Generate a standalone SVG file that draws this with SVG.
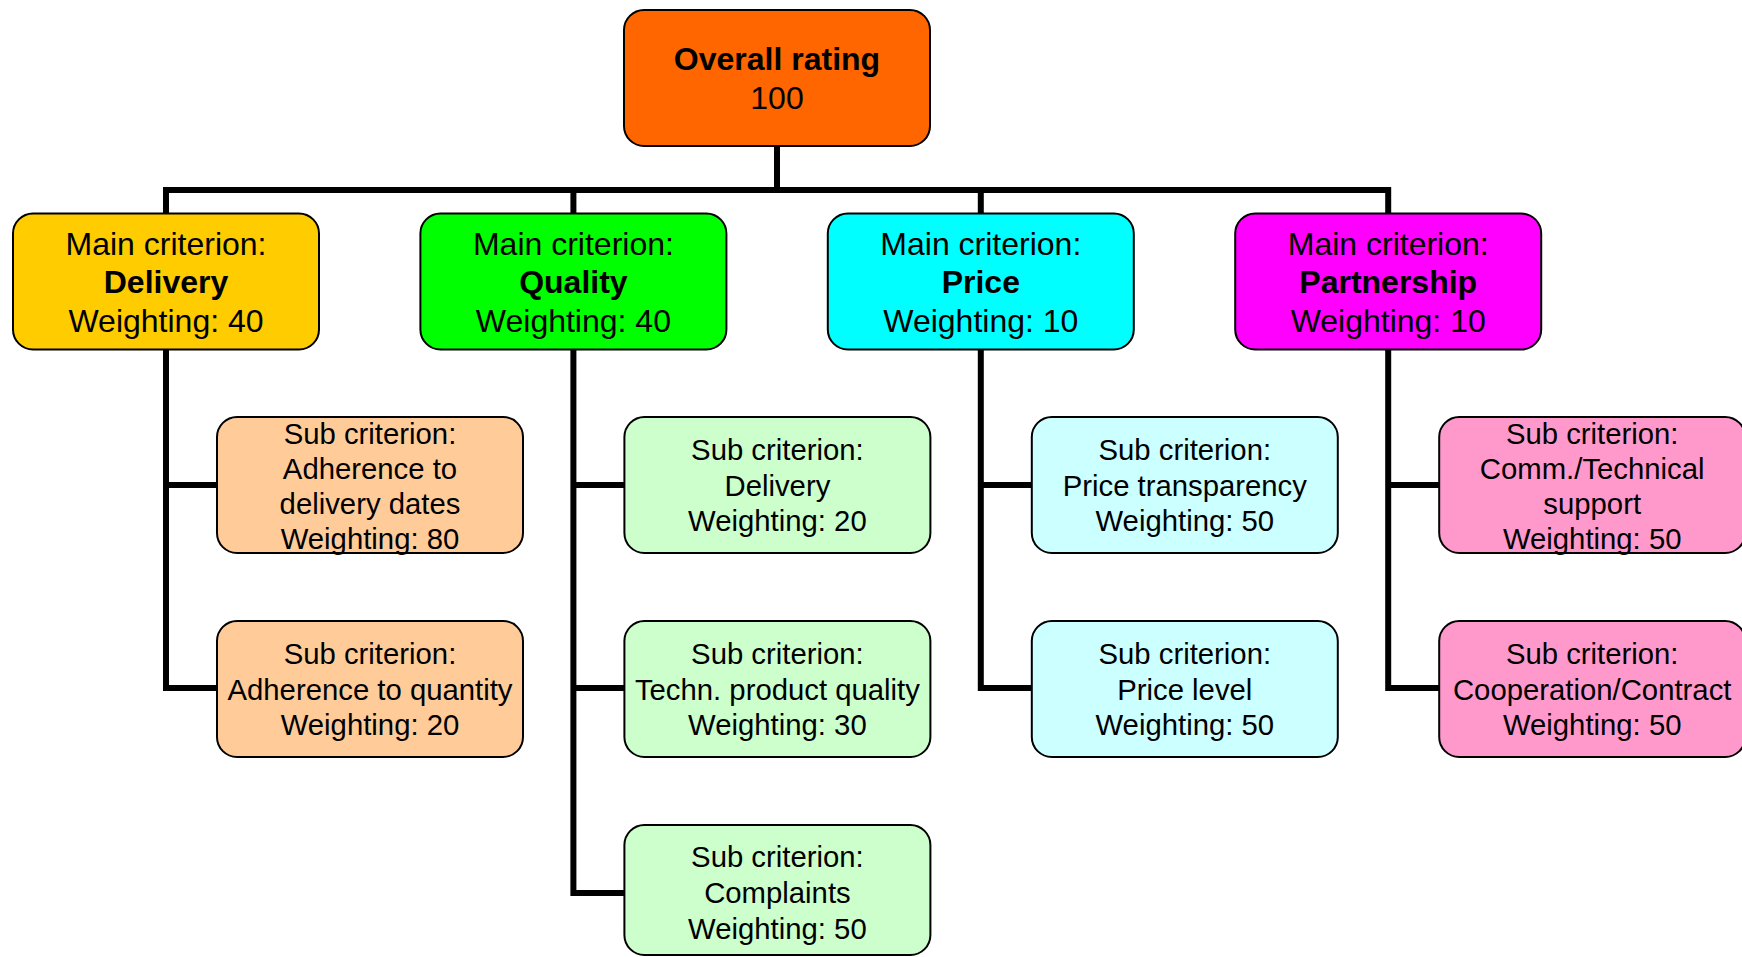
<svg xmlns="http://www.w3.org/2000/svg" width="1742" height="957" viewBox="0 0 1742 957">
<style>
  .box { stroke: #000; stroke-width: 2; }
  .conn { fill: none; stroke: #000; stroke-width: 6; stroke-linejoin: miter; stroke-linecap: butt; }
  text { font-family: "Liberation Sans", Arial, Helvetica, sans-serif; fill: #000; text-anchor: middle; }
  .m { font-size: 32px; }
  .s { font-size: 29.3px; }
  .b { font-weight: bold; }
  .top { fill: #FF6600; }
  .md { fill: #FFCC00; }
  .mq { fill: #00FF00; }
  .mp { fill: #00FFFF; }
  .mr { fill: #FF00FF; }
  .sd { fill: #FFCC99; }
  .sq { fill: #CCFFCC; }
  .sp { fill: #CCFFFF; }
  .sr { fill: #FF99CC; }
</style>
<rect width="1742" height="957" fill="#FFFFFF"/>
<g id="connectors">
  <path class="conn" d="M777,146 V190"/>
  <path class="conn" d="M166,213.5 V190 H1388.2 V213.5"/>
  <path class="conn" d="M573.4,190 V213.5"/>
  <path class="conn" d="M980.8,190 V213.5"/>
  <path class="conn" d="M166,349.5 V688 H217"/>
  <path class="conn" d="M166,485 H217"/>
  <path class="conn" d="M573.4,349.5 V893 H624.4"/>
  <path class="conn" d="M573.4,485 H624.4"/>
  <path class="conn" d="M573.4,688 H624.4"/>
  <path class="conn" d="M980.8,349.5 V688 H1031.8"/>
  <path class="conn" d="M980.8,485 H1031.8"/>
  <path class="conn" d="M1388.2,349.5 V688 H1439.2"/>
  <path class="conn" d="M1388.2,485 H1439.2"/>
</g>
<g id="overall">
  <rect class="box top" x="624" y="10" width="306" height="136" rx="20"/>
  <text class="m b" x="777" y="70">Overall rating</text>
  <text class="m" x="777" y="109">100</text>
</g>
<g id="main-delivery">
  <rect class="box md" x="13" y="213.5" width="306" height="136" rx="20"/>
  <text class="m" x="166" y="255">Main criterion:</text>
  <text class="m b" x="166" y="293">Delivery</text>
  <text class="m" x="166" y="331.5">Weighting: 40</text>
</g>
<g id="main-quality">
  <rect class="box mq" x="420.4" y="213.5" width="306" height="136" rx="20"/>
  <text class="m" x="573.4" y="255">Main criterion:</text>
  <text class="m b" x="573.4" y="293">Quality</text>
  <text class="m" x="573.4" y="331.5">Weighting: 40</text>
</g>
<g id="main-price">
  <rect class="box mp" x="827.8" y="213.5" width="306" height="136" rx="20"/>
  <text class="m" x="980.8" y="255">Main criterion:</text>
  <text class="m b" x="980.8" y="293">Price</text>
  <text class="m" x="980.8" y="331.5">Weighting: 10</text>
</g>
<g id="main-partnership">
  <rect class="box mr" x="1235.2" y="213.5" width="306" height="136" rx="20"/>
  <text class="m" x="1388.2" y="255">Main criterion:</text>
  <text class="m b" x="1388.2" y="293">Partnership</text>
  <text class="m" x="1388.2" y="331.5">Weighting: 10</text>
</g>
<g id="sub-delivery-dates">
  <rect class="box sd" x="217" y="417" width="306" height="136" rx="20"/>
  <text class="s" x="370" y="443.5">Sub criterion:</text>
  <text class="s" x="370" y="478.5">Adherence to</text>
  <text class="s" x="370" y="513.5">delivery dates</text>
  <text class="s" x="370" y="548.5">Weighting: 80</text>
</g>
<g id="sub-delivery-quantity">
  <rect class="box sd" x="217" y="621" width="306" height="136" rx="20"/>
  <text class="s" x="370" y="664">Sub criterion:</text>
  <text class="s" x="370" y="699.5">Adherence to quantity</text>
  <text class="s" x="370" y="735">Weighting: 20</text>
</g>
<g id="sub-quality-delivery">
  <rect class="box sq" x="624.4" y="417" width="306" height="136" rx="20"/>
  <text class="s" x="777.4" y="460">Sub criterion:</text>
  <text class="s" x="777.4" y="495.5">Delivery</text>
  <text class="s" x="777.4" y="531">Weighting: 20</text>
</g>
<g id="sub-quality-techn">
  <rect class="box sq" x="624.4" y="621" width="306" height="136" rx="20"/>
  <text class="s" x="777.4" y="664">Sub criterion:</text>
  <text class="s" x="777.4" y="699.5">Techn. product quality</text>
  <text class="s" x="777.4" y="735">Weighting: 30</text>
</g>
<g id="sub-quality-complaints">
  <rect class="box sq" x="624.4" y="825" width="306" height="130" rx="20"/>
  <text class="s" x="777.4" y="867">Sub criterion:</text>
  <text class="s" x="777.4" y="903">Complaints</text>
  <text class="s" x="777.4" y="938.5">Weighting: 50</text>
</g>
<g id="sub-price-transparency">
  <rect class="box sp" x="1031.8" y="417" width="306" height="136" rx="20"/>
  <text class="s" x="1184.8" y="460">Sub criterion:</text>
  <text class="s" x="1184.8" y="495.5">Price transparency</text>
  <text class="s" x="1184.8" y="531">Weighting: 50</text>
</g>
<g id="sub-price-level">
  <rect class="box sp" x="1031.8" y="621" width="306" height="136" rx="20"/>
  <text class="s" x="1184.8" y="664">Sub criterion:</text>
  <text class="s" x="1184.8" y="699.5">Price level</text>
  <text class="s" x="1184.8" y="735">Weighting: 50</text>
</g>
<g id="sub-partnership-support">
  <rect class="box sr" x="1439.2" y="417" width="306" height="136" rx="20"/>
  <text class="s" x="1592.2" y="443.5">Sub criterion:</text>
  <text class="s" x="1592.2" y="478.5">Comm./Technical</text>
  <text class="s" x="1592.2" y="513.5">support</text>
  <text class="s" x="1592.2" y="548.5">Weighting: 50</text>
</g>
<g id="sub-partnership-cooperation">
  <rect class="box sr" x="1439.2" y="621" width="306" height="136" rx="20"/>
  <text class="s" x="1592.2" y="664">Sub criterion:</text>
  <text class="s" x="1592.2" y="699.5">Cooperation/Contract</text>
  <text class="s" x="1592.2" y="735">Weighting: 50</text>
</g>
</svg>
